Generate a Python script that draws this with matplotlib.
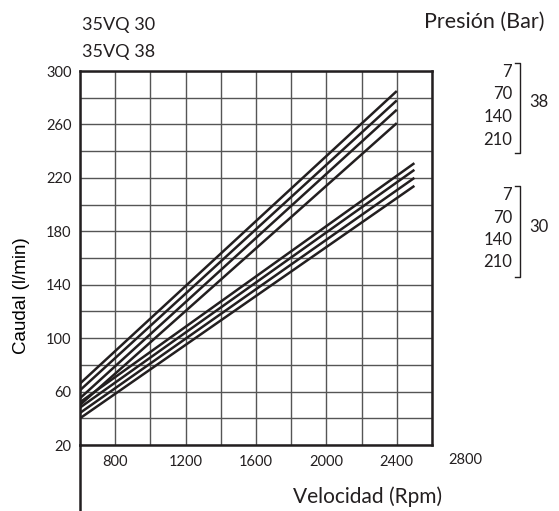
"""
Caudal vs velocidad para bombas 35VQ 30 / 35VQ 38 a distintas presiones.
"""

import matplotlib
matplotlib.use('agg')
from matplotlib import pyplot as plt
from matplotlib.lines import Line2D

plt.rcParams['font.family'] = ['Lato', 'DejaVu Sans']

# Datos (rpm, l/min)
presiones = ['7', '70', '140', '210']

rpm_38 = [600, 2400]
caudal_38 = [[66, 285], [61, 278], [55, 271], [50, 261]]

rpm_30 = [600, 2500]
caudal_30 = [[52, 231], [48, 226], [44, 220], [40, 214]]

x_ticks = [800, 1200, 1600, 2000, 2400]
y_ticks = [20, 60, 100, 140, 180, 220, 260, 300]

LINE_COLOR = '#231f20'
GRID_COLOR = '#555555'
TXT = '#231f20'

fig = plt.figure(figsize=(5.59, 5.11), dpi=100)
ax = fig.add_axes([80 / 559, 66 / 511, 352 / 559, 374 / 511])

for c in caudal_38:
    ax.plot(rpm_38, c, color=LINE_COLOR, lw=1.8, solid_capstyle='butt')
for c in caudal_30:
    ax.plot(rpm_30, c, color=LINE_COLOR, lw=1.8, solid_capstyle='butt')

ax.set_xlim(600, 2600)
ax.set_ylim(20, 300)
ax.set_xticks(x_ticks)
ax.set_yticks(y_ticks)
ax.set_xticks(range(600, 2601, 200), minor=True)
ax.set_yticks(range(20, 301, 20), minor=True)
ax.grid(True, which='both', color=GRID_COLOR, lw=1.0)
ax.set_axisbelow(True)
ax.tick_params(which='both', length=0, labelsize=10.5, colors=TXT)
ax.tick_params(axis='x', pad=7)
ax.tick_params(axis='y', pad=6)
for s in ax.spines.values():
    s.set_linewidth(1.8)
    s.set_color(LINE_COLOR)

# 2800 queda fuera del area del grafico
ax.text(2790, -0.022, '2800', transform=ax.get_xaxis_transform(),
        ha='center', va='top', fontsize=10.5, color=TXT)

# eje izquierdo prolongado hacia abajo
ax.add_line(Line2D([0, 0], [0, -0.2], transform=ax.transAxes, color=LINE_COLOR,
                   lw=1.8, clip_on=False))

fig.text(82 / 559, 1 - 25 / 511, '35VQ 30', fontsize=13, va='center', ha='left', color=TXT)
fig.text(82 / 559, 1 - 52 / 511, '35VQ 38', fontsize=13, va='center', ha='left', color=TXT)
fig.text(545 / 559, 1 - 22 / 511, 'Presión (Bar)', fontsize=15.5, va='center', ha='right',
         color=TXT)
fig.text(22 / 559, 1 - 296 / 511, 'Caudal (l/min)', fontsize=13.5, va='center', ha='center',
         rotation=90, family=['Liberation Sans', 'DejaVu Sans'])
fig.text(368 / 559, 1 - 497 / 511, 'Velocidad (Rpm)', fontsize=15, va='center', ha='center',
         color=TXT)

# leyenda de presiones con corchetes
grupos = [('38', [71.7, 94.3, 117.3, 140.0], 62.7, 152.7, 101.7),
          ('30', [195.0, 218.3, 240.0, 261.7], 186.0, 276.7, 226.7)]
for nombre, ys, y_top, y_bot, y_nom in grupos:
    for p, y in zip(presiones, ys):
        fig.text(512 / 559, 1 - y / 511, p, fontsize=12, va='center', ha='right', color=TXT)
    fig.add_artist(Line2D([515 / 559, 520 / 559, 520 / 559, 515 / 559],
                          [1 - y_top / 511, 1 - y_top / 511, 1 - y_bot / 511, 1 - y_bot / 511],
                          transform=fig.transFigure, color=LINE_COLOR, lw=1.0))
    fig.text(529 / 559, 1 - y_nom / 511, nombre, fontsize=12, va='center', ha='left', color=TXT)

plt.savefig('out.png', dpi=100)
plt.close(fig)
